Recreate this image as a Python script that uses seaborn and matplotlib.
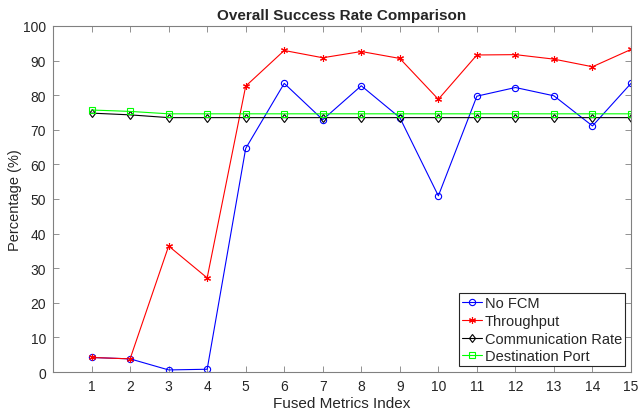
import pandas as pd
import seaborn as sns
import matplotlib.pyplot as plt

sns.set_theme(style="white")
plt.rcParams["font.family"] = ["Liberation Sans", "DejaVu Sans"]

# Data
index = list(range(1, 16))
no_fcm = [4.2, 3.8, 0.6, 0.8, 64.6, 83.4, 72.9, 82.7, 73.5, 50.9, 79.7, 82.2, 79.8, 71.1, 83.4]
throughput = [4.2, 3.8, 36.4, 27.2, 82.6, 92.9, 90.8, 92.6, 90.6, 78.8, 91.6, 91.7, 90.4, 88.2, 93.2]
comm_rate = [74.8, 74.3, 73.5, 73.5, 73.5, 73.5, 73.5, 73.5, 73.5, 73.5, 73.5, 73.5, 73.5, 73.5, 73.5]
dest_port = [75.7, 75.3, 74.6, 74.6, 74.6, 74.6, 74.6, 74.6, 74.6, 74.6, 74.6, 74.6, 74.6, 74.6, 74.6]

series = [
    ("No FCM", no_fcm, "#0000ff", "o"),
    ("Throughput", throughput, "#ff0000", (6, 2, 0)),
    ("Communication Rate", comm_rate, "#000000", "d"),
    ("Destination Port", dest_port, "#00ff00", "s"),
]

fig = plt.figure(figsize=(6.39, 4.14), dpi=100)
ax = fig.add_axes([0.083, 0.099, 0.9045, 0.836])

for name, vals, col, mk in series:
    df = pd.DataFrame({"Index": index, "Value": vals})
    sns.lineplot(data=df, x="Index", y="Value", ax=ax, color=col, linewidth=0.8,
                 marker=mk, markersize=4.5 if mk != (6, 2, 0) else 5,
                 markerfacecolor="none", markeredgecolor=col, markeredgewidth=0.8,
                 label=name)

ax.set_xlim(0, 15)
ax.set_ylim(0, 100)
ax.set_xticks(index)
ax.set_yticks(range(0, 101, 10))
ax.tick_params(direction="in", length=4, width=0.6, color="#808080",
               labelcolor="#262626", labelsize=10, top=True, right=True,
               left=True, bottom=True, pad=5)
for sp in ax.spines.values():
    sp.set_color("#808080")
    sp.set_linewidth(0.8)

ax.set_xlabel("Fused Metrics Index", fontsize=11, color="#262626", labelpad=2)
ax.set_ylabel("Percentage (%)", fontsize=10.5, color="#262626", labelpad=1)
ax.set_title("Overall Success Rate Comparison", fontsize=11, fontweight="bold", pad=5)

leg = ax.legend(loc="lower right", fontsize=10.5, frameon=True, fancybox=False,
                edgecolor="#262626", framealpha=1, handlelength=1.4,
                handletextpad=0.2, labelspacing=0.25, borderpad=0.2,
                borderaxespad=0.4)
leg.get_frame().set_linewidth(0.8)

plt.savefig("out.png", dpi=100)
